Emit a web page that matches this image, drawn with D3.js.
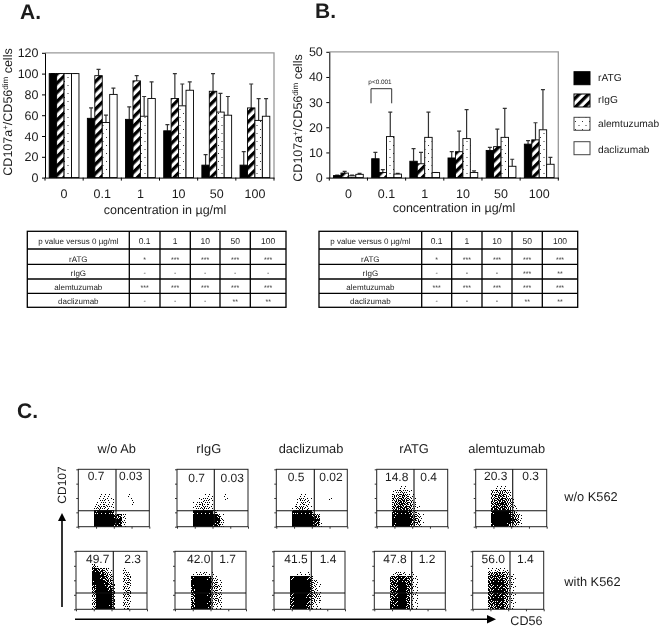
<!DOCTYPE html>
<html>
<head>
<meta charset="utf-8">
<script src="https://cdn.jsdelivr.net/npm/d3@7/dist/d3.min.js"></script>
<style>
html,body{margin:0;padding:0;background:#fff}
svg{display:block;filter:blur(0.3px);text-rendering:geometricPrecision}
text{font-family:"Liberation Sans",Arial,sans-serif;fill:#1c1c1c}
</style>
</head>
<body>
<div id="chart"></div>
<script>
// ---- data ----
const concentrations = ["0","0.1","1","10","50","100"];
const seriesNames = ["rATG","rIgG","alemtuzumab","daclizumab"];

const aRATG = [100,57,56,45,12,12];
const aRIgG = [100,98,93,76,83,67];
const aAlem = [100,53,59,69,63,55];
const aDacl = [100,80,76,84,60,59];
const aRATGTop = [100,67,68,51,22,25];
const aRIgGTop = [100,104,98,100,100,90];
const aAlemTop = [100,60,78,90,81,76];
const aDaclTop = [100,86,92,92,78,76];

const bRATG = [0.8,7.5,6.5,7.8,10.8,13.3];
const bRIgG = [1.8,2,5.5,10.3,12.3,15];
const bAlem = [0.7,16.3,16,15.5,16,19];
const bDacl = [1.3,1.4,2,2,4.5,5.3];
const bRATGTop = [1,10,11.5,10.3,12,14.7];
const bRIgGTop = [2.5,3.2,10,18.5,19.3,21.8];
const bAlemTop = [1,26,26,27,27.5,35];
const bDaclTop = [1.7,1.7,2,2.7,7.3,8];

const tableHeader = ["p value versus 0 µg/ml","0.1","1","10","50","100"];
const tableRowNames = ["rATG","rIgG","alemtuzumab","daclizumab"];
const tableA = [
  ["*","***","***","***","***"],
  ["-","-","-","-","-"],
  ["***","***","***","***","***"],
  ["-","-","-","**","**"]];
const tableB = [
  ["*","***","***","***","***"],
  ["-","-","-","***","**"],
  ["***","***","***","***","***"],
  ["-","-","-","**","**"]];

const flowHeaders = ["w/o Ab","rIgG","daclizumab","rATG","alemtuzumab"];
const flowRows = ["w/o K562","with K562"];
const upperLeft = [["0.7","0.7","0.5","14.8","20.3"],["49.7","42.0","41.5","47.8","56.0"]];
const upperRight = [["0.03","0.03","0.02","0.4","0.3"],["2.3","1.7","1.4","1.2","1.4"]];

// density of events per gate cell (0-9), rows run top to bottom
const blank = "000000000000000000";
const densTop1 = [blank,blank,blank,blank,blank,blank,
 "000001110000100000","000001211000010000","000012221000010000","000023321000000000",
 "000078887000000000","000099999762000000","000099999982000000","000099999871000000"];
const densTop2 = [blank,blank,blank,blank,blank,blank,
 "000000011000100000","000001221000100000","000012321000000000","000012321000000000",
 "000088888210000000","000099999971000000","000099999983000000","000099999872000000"];
const densTop3 = [blank,blank,blank,blank,blank,blank,
 "000000110000000000","000001321000010000","000001321000000000","000013421000000000",
 "000078888100000000","000099999650000000","000099999870000000","000099999761000000"];
const densTop4 = [blank,blank,blank,blank,
 "000000110000000000","000012321000000000","000034542100000000","000045653100000000",
 "000045664200000000","000056775210000000","000078887320000000","000089998531000000",
 "000099999641000000","000089998431000000"];
const densTop5 = [blank,blank,blank,blank,
 "000001210000000000","000034542000000000","000045653000000000","000055664100000000",
 "000056764200000000","000067775110000000","000079998310000000","000099999641000000",
 "000099999761000000","000089997431000000"];
const densBot1 = [blank,blank,blank,
 "000041000000000000","000087631000200000","000099753000320000","000099864100330000",
 "000089975200330000","000079986300320000","000059997300330000","000049999400330000",
 "000039999500320000","000049999500320000","000039998400220000"];
const densBot2 = [blank,blank,blank,blank,blank,
 "000011221100000000","000089998310000000","000099999431000000","000089999342000000",
 "000069998332000000","000069998332000000","000059998333000000","000079998322000000",
 "000069997211000000"];
const densBot3 = [blank,blank,blank,blank,blank,
 "000001111000000000","000089998400000000","000099999431000000","000099999421000000",
 "000099999431000000","000089998532000000","000079998332000000","000089998321000000",
 "000079997211000000"];
const densBot4 = [blank,blank,blank,blank,blank,
 "000012321100000000","000067886310000000","000067886310000000","000067996310000000",
 "000067996210000000","000068996210000000","000068996210000000","000078996110000000",
 "000078996110000000"];
const densBot5 = [blank,blank,blank,blank,
 "000011211000000000","000056654110000000","000067775210000000","000068885210000000",
 "000068886210000000","000067886110000000","000068886210000000","000068885210000000",
 "000067885110000000","000056775110000000"];
const densities = [[densTop1,densTop2,densTop3,densTop4,densTop5],[densBot1,densBot2,densBot3,densBot4,densBot5]];

// ---- layout ----
const W=661,H=627;
const svg=d3.select("#chart").append("svg").attr("width",W).attr("height",H).attr("viewBox",[0,0,W,H]);
const defs=svg.append("defs");

// hatch fills
const hatch=defs.append("pattern").attr("id","hatch").attr("patternUnits","userSpaceOnUse")
  .attr("width",6.5).attr("height",6.5).attr("patternTransform","rotate(45)");
hatch.append("rect").attr("width",6.5).attr("height",6.5).attr("fill","#fff");
hatch.append("rect").attr("width",3.3).attr("height",6.5).attr("fill","#000");
const dots=defs.append("pattern").attr("id","dots").attr("patternUnits","userSpaceOnUse")
  .attr("width",7).attr("height",8);
dots.append("rect").attr("width",7).attr("height",8).attr("fill","#fff");
dots.append("rect").attr("x",1).attr("y",1).attr("width",1).attr("height",1).attr("fill","#333");
dots.append("rect").attr("x",4.5).attr("y",5).attr("width",1).attr("height",1).attr("fill","#333");
const seriesFill=d3.scaleOrdinal().domain(seriesNames).range(["#000","url(#hatch)","url(#dots)","#fff"]);

// stipple texture for the dot-plot density levels
const grain=[
 [ 7,40,19,55,2,31,48,13],
 [36,60,11,28,44,63,22,52],
 [16,25,50,4,57,9,38,0],
 [46,3,34,61,18,41,27,59],
 [ 10,54,21,42,6,51,14,32],
 [37,29,58,12,35,62,24,45],
 [20,1,47,26,53,5,43,8],
 [56,39,15,33,23,49,17,30]];
d3.range(1,9).forEach(level=>{
  const p=defs.append("pattern").attr("id","st"+level).attr("patternUnits","userSpaceOnUse")
    .attr("width",8).attr("height",8);
  const cover=(level/9)*64;
  grain.forEach((row,j)=>row.forEach((v,i)=>{
    if(v<cover) p.append("rect").attr("x",i).attr("y",j).attr("width",1).attr("height",1)
      .attr("fill","#000").attr("shape-rendering","crispEdges");
  }));
});
defs.append("filter").attr("id","soft").attr("x","-5%").attr("y","-5%").attr("width","110%").attr("height","110%")
  .append("feGaussianBlur").attr("stdDeviation",0.55);

function txt(g,x,y,s,size,anchor="middle",extra={}){
  const t=g.append("text").attr("x",x).attr("y",y).attr("font-size",size).attr("text-anchor",anchor).text(s);
  Object.entries(extra).forEach(([k,v])=>t.attr(k,v));
  return t;
}

function barChart(o){
  const g=svg.append("g");
  const x=d3.scaleBand().domain(concentrations).range([o.left,o.right]).paddingInner(0.22).paddingOuter(0.11);
  const step=x.step();
  const sub=d3.scaleBand().domain(seriesNames).range([0,x.bandwidth()]);
  const y=d3.scaleLinear().domain([0,o.max]).range([o.bottom,o.top]);
  g.append("path").attr("d",`M${o.left},${o.top}H${o.right}V${o.bottom}`).attr("fill","none").attr("stroke","#999").attr("stroke-width",1.3);
  o.values.forEach((vals,s)=>{
    const name=seriesNames[s];
    const sg=g.append("g");
    sg.selectAll("path.err").data(concentrations).join("path").attr("class","err")
      .attr("d",(c,i)=>{
        const cx=x(c)+sub(name)+sub.bandwidth()/2;
        return `M${cx},${y(vals[i])}V${y(o.tops[s][i])}M${cx-2},${y(o.tops[s][i])}H${cx+2}`;
      }).attr("stroke","#333").attr("stroke-width",1.2).attr("fill","none");
    sg.selectAll("rect").data(concentrations).join("rect")
      .attr("x",c=>x(c)+sub(name)).attr("width",sub.bandwidth())
      .attr("y",(c,i)=>y(vals[i])).attr("height",(c,i)=>o.bottom-y(vals[i]))
      .attr("fill",seriesFill(name)).attr("stroke","#000").attr("stroke-width",0.9);
  });
  const ya=g.append("g").attr("transform",`translate(${o.left},0)`)
    .call(d3.axisLeft(y).tickValues(o.ticks).tickSize(3).tickSizeOuter(0));
  ya.selectAll("text").attr("font-size",12.5).attr("font-family","Liberation Sans").attr("dx",-0.5).style("fill","#1c1c1c");
  ya.selectAll("line,path").attr("stroke","#000");
  const xa=g.append("g").attr("transform",`translate(0,${o.bottom})`)
    .call(d3.axisBottom(x).tickSize(0).tickPadding(12));
  xa.selectAll("text").attr("font-size",12.5).attr("font-family","Liberation Sans").style("fill","#1c1c1c");
  xa.select("path").attr("stroke","#000");
  g.selectAll("line.xt").data(d3.range(concentrations.length+1)).join("line").attr("class","xt")
    .attr("x1",i=>o.left+i*step).attr("x2",i=>o.left+i*step)
    .attr("y1",o.bottom).attr("y2",o.bottom+3).attr("stroke","#000");
  txt(g,o.xLabelX,o.xLabelY,"concentration in µg/ml",12.5);
  const yl=g.append("text").attr("transform",`translate(${o.yLabelX},${o.yLabelY}) rotate(-90)`)
    .attr("text-anchor","middle").attr("font-size",12.5);
  yl.append("tspan").text("CD107a");
  yl.append("tspan").attr("font-size",8).attr("dy",-4).text("+");
  yl.append("tspan").attr("dy",4).text("/CD56");
  yl.append("tspan").attr("font-size",8).attr("dy",-4).text("dim");
  yl.append("tspan").attr("dy",4).text(" cells");
  return {x,y};
}

barChart({left:45,right:274,top:52.8,bottom:177.6,max:120,ticks:d3.range(0,121,20),
  values:[aRATG,aRIgG,aAlem,aDacl],tops:[aRATGTop,aRIgGTop,aAlemTop,aDaclTop],
  xLabelX:165,xLabelY:214,yLabelX:12,yLabelY:112});
barChart({left:329.3,right:558.3,top:51.8,bottom:177.6,max:50,ticks:d3.range(0,51,10),
  values:[bRATG,bRIgG,bAlem,bDacl],tops:[bRATGTop,bRIgGTop,bAlemTop,bDaclTop],
  xLabelX:454,xLabelY:212,yLabelX:302,yLabelY:118});

// significance bracket
svg.append("path").attr("d","M371,103.3V88.7H391.7V103.3").attr("fill","none").attr("stroke","#333").attr("stroke-width",1);
txt(svg,380,84,"p<0.001",6.4);

// panel letters
[["A.",20,18.5],["B.",315,17.5],["C.",17,418]].forEach(d=>txt(svg,d[1],d[2],d[0],21,"start",{"font-weight":"bold"}));

// legend
const legY=[71.7,94,117.3,141.7], legText=[81,102.7,126.7,152.7];
seriesNames.forEach((n,i)=>{
  svg.append("rect").attr("x",574).attr("y",legY[i]).attr("width",16).attr("height",13)
    .attr("fill",seriesFill(n)).attr("stroke",i<2?"#000":"#444").attr("stroke-width",1);
  txt(svg,598,legText[i],n,10.2,"start");
});

// significance tables
function sigTable(x0,cols,rows){
  const g=svg.append("g");
  const ys=[231.3,249,264.3,279,293.3,307.3];
  const xs=[x0].concat(cols);
  g.append("rect").attr("x",x0).attr("y",ys[0]).attr("width",cols[cols.length-1]-x0).attr("height",ys[5]-ys[0])
    .attr("fill","none").attr("stroke","#000").attr("stroke-width",1.3);
  ys.slice(1,5).forEach(y=>g.append("line").attr("x1",x0).attr("x2",cols[cols.length-1]).attr("y1",y).attr("y2",y).attr("stroke","#000").attr("stroke-width",1.3));
  cols.slice(0,-1).forEach(x=>g.append("line").attr("x1",x).attr("x2",x).attr("y1",ys[0]).attr("y2",ys[5]).attr("stroke","#000").attr("stroke-width",1.3));
  const centre=i=>(xs[i]+xs[i+1])/2;
  tableHeader.forEach((h,i)=>txt(g,centre(i),244,h,i?8.5:8));
  const base=[261.5,276,290,304];
  tableRowNames.forEach((n,r)=>{
    txt(g,centre(0),base[r],n,8);
    rows[r].forEach((s,c)=>txt(g,centre(c+1),base[r]-(s==="-"?1:0),s,7).style("fill","#333"));
  });
}
sigTable(27.3,[129.3,160,190.3,220,250.3,286],tableA);
sigTable(319,[421.7,451.7,482,512,542.3,577.7],tableB);

// dot plots
const plotLeft=[[78.3,177,276.3,376.7,475.7],[76,175,274,374.3,472.7]];
const plotVGate=[[116,214.3,314.3,414,512.7],[113.3,212,311.3,411.7,510]];
const plotTop=[469.3,551.3], plotH=[57.4,58], plotW=71, plotHGate=[510.7,593];
const ulX=[[96,196.7,296,396.7,495.7],[97.7,198.7,296,395,493.3]];
const urX=[[130.7,232.3,331,428.7,530.7],[132.7,227.7,328,427,525.3]];
const numBase=[[480,482,481,481,480],[563.3,563.3,563.3,563.3,563.3]];
const colIdx=d3.range(18), rowIdx=d3.range(14);
flowRows.forEach((rowName,r)=>{
  flowHeaders.forEach((h,c)=>{
    const g=svg.append("g");
    const L=plotLeft[r][c],T=plotTop[r],PH=plotH[r];
    const cx=d3.scaleBand().domain(colIdx).range([L,L+plotW]);
    const cy=d3.scaleBand().domain(rowIdx).range([T,T+PH]);
    const cloud=g.append("g").attr("filter","url(#soft)");
    densities[r][c].forEach((s,j)=>{
      colIdx.forEach(i=>{
        const d=+s[i];
        if(!d) return;
        cloud.append("rect").attr("x",cx(i)).attr("y",cy(j))
          .attr("width",cx.bandwidth()).attr("height",cy.bandwidth())
          .attr("shape-rendering","crispEdges")
          .attr("fill",d>=9?"#000":`url(#st${d})`);
      });
    });
    g.append("rect").attr("x",L).attr("y",T).attr("width",plotW).attr("height",PH)
      .attr("fill","none").attr("stroke","#222").attr("stroke-width",1);
    g.append("line").attr("x1",plotVGate[r][c]).attr("x2",plotVGate[r][c]).attr("y1",T).attr("y2",T+PH).attr("stroke","#111").attr("stroke-width",1.1);
    g.append("line").attr("x1",L).attr("x2",L+plotW).attr("y1",plotHGate[r]).attr("y2",plotHGate[r]).attr("stroke","#111").attr("stroke-width",1.1);
    const ax=d3.scaleLinear().domain([0,4]).range([T+PH,T]);
    const left=g.append("g").attr("transform",`translate(${L},0)`).call(d3.axisLeft(ax).ticks(5).tickSize(2).tickFormat(""));
    left.select("path").remove(); left.selectAll("line").attr("stroke","#333");
    const bx=d3.scaleLinear().domain([0,4]).range([L,L+plotW]);
    const bot=g.append("g").attr("transform",`translate(0,${T+PH})`).call(d3.axisBottom(bx).ticks(5).tickSize(2).tickFormat(""));
    bot.select("path").remove(); bot.selectAll("line").attr("stroke","#333");
    txt(g,ulX[r][c],numBase[r][c],upperLeft[r][c],12);
    txt(g,urX[r][c],numBase[r][c],upperRight[r][c],12);
  });
});
const headX=[116.7,208.7,311,414,506.7];
flowHeaders.forEach((h,i)=>txt(svg,headX[i],453,h,12.8));
txt(svg,564.3,501,flowRows[0],12.8,"start");
txt(svg,564.3,586,flowRows[1],12.8,"start");
svg.append("text").attr("transform","translate(65.5,485) rotate(-90)").attr("text-anchor","middle").attr("font-size",12).text("CD107");
txt(svg,510.3,625,"CD56",12.6,"start");

// CD107 / CD56 arrows
svg.append("path").attr("d","M62,607V520").attr("stroke","#000").attr("stroke-width",1.6).attr("fill","none");
svg.append("path").attr("d","M58,521L62,513L66,521Z").attr("fill","#000");
svg.append("path").attr("d","M75,619.3H488").attr("stroke","#000").attr("stroke-width",1.6).attr("fill","none");
svg.append("path").attr("d","M487,615L496,619.3L487,623.6Z").attr("fill","#000");
</script>
</body>
</html>
